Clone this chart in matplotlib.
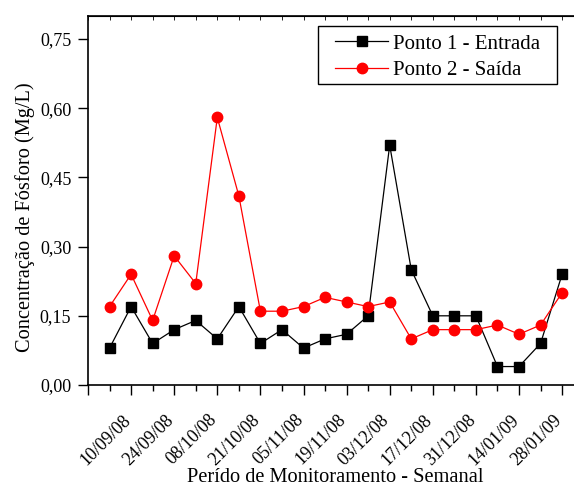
import matplotlib
matplotlib.use('Agg')
import matplotlib.pyplot as plt
import matplotlib.patches as mpatches
import matplotlib.transforms as mtransforms
import numpy as np
from matplotlib.ticker import FuncFormatter

plt.rcParams['font.family'] = ['Liberation Serif', 'DejaVu Serif']

datas = ['10/09/08', '24/09/08', '08/10/08', '21/10/08', '05/11/08', '19/11/08',
         '03/12/08', '17/12/08', '31/12/08', '14/01/09', '28/01/09']

entrada = [0.08, 0.17, 0.09, 0.12, 0.14, 0.10, 0.17, 0.09, 0.12, 0.08, 0.10,
           0.11, 0.15, 0.52, 0.25, 0.15, 0.15, 0.15, 0.04, 0.04, 0.09, 0.24]
saida = [0.17, 0.24, 0.14, 0.28, 0.22, 0.58, 0.41, 0.16, 0.16, 0.17, 0.19,
         0.18, 0.17, 0.18, 0.10, 0.12, 0.12, 0.12, 0.13, 0.11, 0.13, 0.20]

semanas = np.arange(len(entrada))

fig = plt.figure(figsize=(5.74, 4.88), dpi=100)
ax = fig.add_axes([88 / 574, 1 - 385 / 488, (578 - 88) / 574, (385 - 16) / 488])

ax.plot(semanas, entrada, color='black', lw=0.9, marker='s', ms=7,
        label='Ponto 1 - Entrada')
ax.plot(semanas, saida, color='red', lw=0.9, marker='o', ms=7.5,
        label='Ponto 2 - Saída')

ax.set_xlim(-1, -1 + (578 - 88) / 21.55)
ax.set_ylim(0, 0.80)

# major ticks every two weeks, minor in between
ax.set_xticks(np.arange(-1, len(entrada), 2))
ax.set_xticklabels([''] + datas, rotation=45, ha='right', fontsize=13)
ax.set_xticks(np.arange(0, len(entrada), 2), minor=True)
ax.tick_params(axis='x', which='major', direction='out', length=7, width=1, pad=12)
ax.tick_params(axis='x', which='minor', direction='out', length=4, width=1)
shift = mtransforms.ScaledTranslation(0.03, 0, fig.dpi_scale_trans)
for lbl in ax.get_xticklabels():
    lbl.set_transform(lbl.get_transform() + shift)

ax.set_yticks(np.arange(0, 0.76, 0.15))
ax.yaxis.set_major_formatter(FuncFormatter(lambda v, p: f'{v:.2f}'.replace('.', ',')))
ax.tick_params(axis='y', direction='out', length=7, width=1, labelsize=13, pad=5)

top = ax.secondary_xaxis('top')
top.set_xticks(np.arange(-1, len(entrada)))
top.tick_params(direction='in', length=3, width=0.6, labeltop=False)

ax.spines['right'].set_visible(False)
for s in ['left', 'bottom', 'top']:
    ax.spines[s].set_linewidth(1.2)

ax.set_xlabel('Perído de Monitoramento - Semanal', fontsize=14.7)
ax.xaxis.set_label_coords(0.504, -0.226)
ax.set_ylabel('Concentração de Fósforo (Mg/L)', fontsize=14.7)
ax.yaxis.set_label_coords(-0.108, 0.455)

# legend without its own frame; the box is drawn separately to get the wide side padding
leg = ax.legend(loc='upper left', bbox_to_anchor=(335 / 574, 1 - 34 / 488),
                bbox_transform=fig.transFigure, borderaxespad=0, borderpad=0,
                frameon=False, fontsize=15, handlelength=2.55,
                labelspacing=0.35, handletextpad=0.25)
fig.patches.append(mpatches.Rectangle((318 / 574, 1 - 84 / 488), 239 / 574, 58 / 488,
                                      transform=fig.transFigure, fill=False,
                                      edgecolor='black', lw=1.0))

fig.savefig('out.png', dpi=100)
